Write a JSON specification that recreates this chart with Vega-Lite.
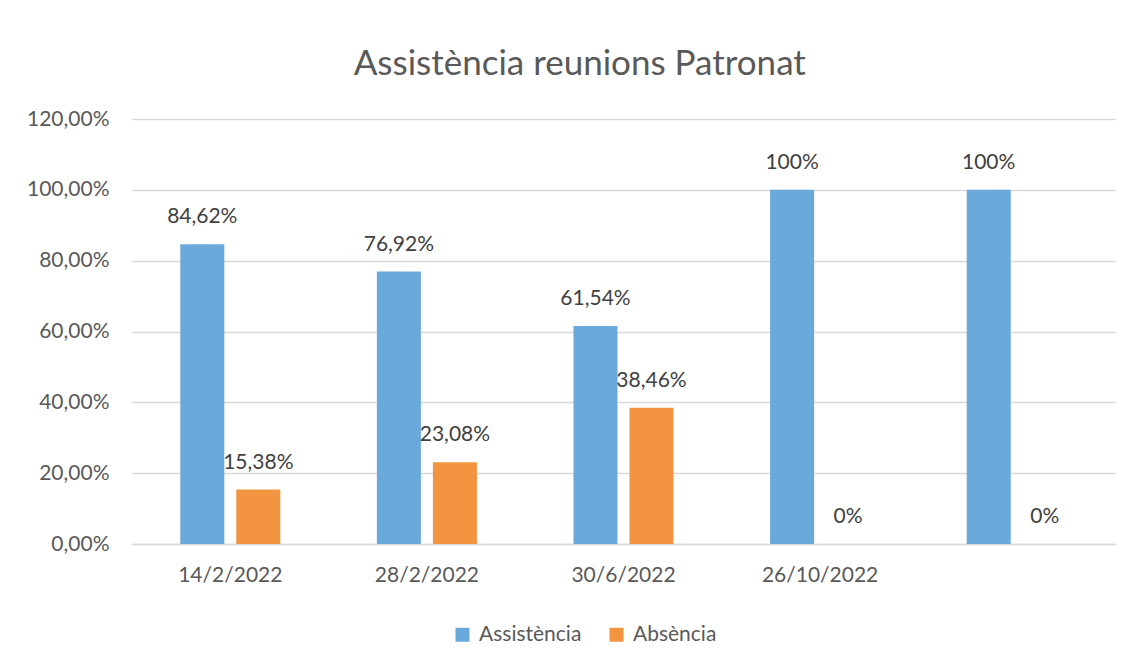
{
  "$schema": "https://vega.github.io/schema/vega-lite/v6.json",
  "width": 983,
  "height": 425,
  "autosize": {"type": "pad"},
  "padding": {"left": 26, "top": 47, "right": 22, "bottom": 10},
  "background": "white",
  "config": {"view": {"stroke": null}},
  "title": {"text": "Assistència reunions Patronat", "fontSize": 35, "font": "Lato", "fontWeight": "normal", "color": "#595959", "offset": 26, "anchor": "middle", "frame": "bounds", "dx": 9},
  "data": {"values": [
    {"data": "14/2/2022", "serie": "Assistència", "valor": 0.8462, "etiqueta": "84,62%"},
    {"data": "14/2/2022", "serie": "Absència", "valor": 0.1538, "etiqueta": "15,38%"},
    {"data": "28/2/2022", "serie": "Assistència", "valor": 0.7692, "etiqueta": "76,92%"},
    {"data": "28/2/2022", "serie": "Absència", "valor": 0.2308, "etiqueta": "23,08%"},
    {"data": "30/6/2022", "serie": "Assistència", "valor": 0.6154, "etiqueta": "61,54%"},
    {"data": "30/6/2022", "serie": "Absència", "valor": 0.3846, "etiqueta": "38,46%"},
    {"data": "26/10/2022", "serie": "Assistència", "valor": 1.0, "etiqueta": "100%"},
    {"data": "26/10/2022", "serie": "Absència", "valor": 0, "etiqueta": "0%"},
    {"data": " ", "serie": "Assistència", "valor": 1.0, "etiqueta": "100%"},
    {"data": " ", "serie": "Absència", "valor": 0, "etiqueta": "0%"}
  ]},
  "encoding": {
    "x": {
      "field": "data", "type": "nominal", "sort": null, "title": null,
      "scale": {"paddingInner": 0, "paddingOuter": 0},
      "axis": {"labelAngle": 0, "ticks": false, "domainColor": "#D9D9D9", "domainWidth": 1.5, "labelFontSize": 21, "labelFont": "Lato", "labelColor": "#595959", "labelPadding": 20, "grid": false}
    },
    "xOffset": {"field": "serie", "type": "nominal", "sort": ["Assistència", "Absència"], "scale": {"paddingInner": 0.214, "paddingOuter": 0.862}},
    "y": {
      "field": "valor", "type": "quantitative", "title": null,
      "scale": {"domain": [0, 1.2], "nice": false},
      "axis": {"values": [0, 0.2, 0.4, 0.6, 0.8, 1.0, 1.2], "labelExpr": "replace(format(datum.value, '.2%'), '.', ',')", "ticks": false, "domain": false, "gridColor": "#D9D9D9", "gridWidth": 1.5, "labelFontSize": 21, "labelFont": "Lato", "labelColor": "#595959", "labelPadding": 23}
    }
  },
  "layer": [
    {
      "mark": {"type": "bar"},
      "encoding": {
        "color": {"field": "serie", "type": "nominal", "sort": ["Assistència", "Absència"],
          "scale": {"domain": ["Assistència", "Absència"], "range": ["#6AAADB", "#F29440"]},
          "legend": {"orient": "none", "legendX": 320, "legendY": 505, "direction": "horizontal", "title": null, "symbolType": "square", "symbolSize": 196, "symbolStrokeWidth": 0, "labelFontSize": 21, "labelFont": "Lato", "labelColor": "#595959", "labelOffset": 6, "columnPadding": 24}
        }
      }
    },
    {
      "mark": {"type": "text", "baseline": "middle", "dy": -27, "fontSize": 21, "font": "Lato", "color": "#404040"},
      "encoding": {"text": {"field": "etiqueta"}}
    }
  ]
}
